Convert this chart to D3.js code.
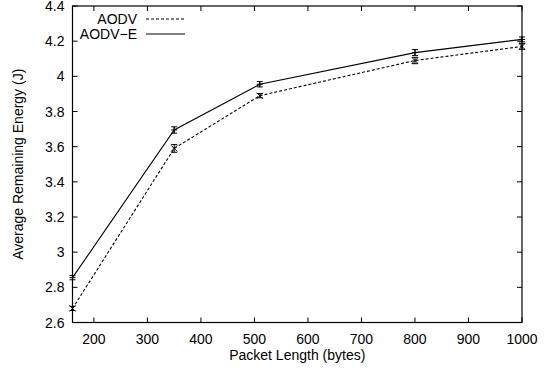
<!DOCTYPE html>
<html><head><meta charset="utf-8">
<script src="https://cdn.jsdelivr.net/npm/d3@7"></script>
<style>body{margin:0;background:#fff}svg{display:block}text{font-family:"Liberation Sans",Arial,sans-serif;fill:#000}</style>
</head><body><svg id="c" width="545" height="374"></svg>
<script>
const packetLengths = [160, 350, 510, 800, 1000];
const aodv = [2.68, 3.59, 3.89, 4.09, 4.17];
const aodvErr = [0.012, 0.022, 0.012, 0.018, 0.016];
const aodvE = [2.855, 3.695, 3.955, 4.135, 4.21];
const aodvEErr = [0.012, 0.018, 0.015, 0.017, 0.014];
const xTicks = [200, 300, 400, 500, 600, 700, 800, 900, 1000];
const yTicks = [2.6, 2.8, 3, 3.2, 3.4, 3.6, 3.8, 4, 4.2, 4.4];
const seriesNames = ["AODV", "AODV\u2212E"];

const svg = d3.select("#c");
const L = 72.5, R = 522, T = 6, B = 322.5;
const x = d3.scaleLinear().domain([160, 1000]).range([L, R]);
const y = d3.scaleLinear().domain([2.6, 4.4]).range([B, T]);
const fs = 14;

// frame
svg.append("rect").attr("x", L).attr("y", T).attr("width", R - L).attr("height", B - T)
  .attr("fill", "none").attr("stroke", "#000").attr("stroke-width", 1.2);

const tl = 5;
// x ticks (inward, mirrored)
xTicks.forEach(v => {
  svg.append("line").attr("x1", x(v)).attr("x2", x(v)).attr("y1", B).attr("y2", B - tl).attr("stroke", "#000");
  svg.append("line").attr("x1", x(v)).attr("x2", x(v)).attr("y1", T).attr("y2", T + tl).attr("stroke", "#000");
  svg.append("text").attr("x", x(v)).attr("y", B + 21).attr("text-anchor", "middle").attr("font-size", fs).text(v);
});
yTicks.forEach(v => {
  svg.append("line").attr("x1", L).attr("x2", L + tl).attr("y1", y(v)).attr("y2", y(v)).attr("stroke", "#000");
  svg.append("line").attr("x1", R).attr("x2", R - tl).attr("y1", y(v)).attr("y2", y(v)).attr("stroke", "#000");
  svg.append("text").attr("x", L - 8).attr("y", y(v) + 5).attr("text-anchor", "end").attr("font-size", fs)
    .text(d3.format("~g")(v));
});

svg.append("text").attr("x", (L + R) / 2).attr("y", 360).attr("text-anchor", "middle").attr("font-size", fs)
  .text("Packet Length (bytes)");
svg.append("text").attr("transform", `translate(23,${(T + B) / 2}) rotate(-90)`).attr("text-anchor", "middle")
  .attr("font-size", fs).text("Average Remaining Energy (J)");

const line = d3.line().x(d => x(d[0])).y(d => y(d[1]));
function drawSeries(vals, errs, dash, marker) {
  const pts = packetLengths.map((p, i) => [p, vals[i]]);
  svg.append("path").attr("d", line(pts)).attr("fill", "none").attr("stroke", "#000")
    .attr("stroke-width", 1.1).attr("stroke-dasharray", dash);
  pts.forEach((p, i) => {
    const cx = x(p[0]), y1 = y(p[1] - errs[i]), y2 = y(p[1] + errs[i]);
    svg.append("line").attr("x1", cx).attr("x2", cx).attr("y1", y1).attr("y2", y2).attr("stroke", "#000");
    [y1, y2].forEach(yy => svg.append("line").attr("x1", cx - 3).attr("x2", cx + 3).attr("y1", yy).attr("y2", yy).attr("stroke", "#000"));
    const cy = y(p[1]), s = 3;
    if (marker === "x") {
      svg.append("path").attr("d", `M${cx - s},${cy - s}L${cx + s},${cy + s}M${cx - s},${cy + s}L${cx + s},${cy - s}`).attr("stroke", "#000");
    } else {
      svg.append("path").attr("d", `M${cx - s},${cy}L${cx + s},${cy}M${cx},${cy - s}L${cx},${cy + s}`).attr("stroke", "#000");
    }
  });
}
drawSeries(aodv, aodvErr, "3,2", "x");
drawSeries(aodvE, aodvEErr, null, "+");

// legend
const legY = [19, 34];
seriesNames.forEach((n, i) => {
  svg.append("text").attr("x", 137).attr("y", legY[i] + 5).attr("text-anchor", "end").attr("font-size", fs).text(n);
  svg.append("line").attr("x1", 146).attr("x2", 185).attr("y1", legY[i]).attr("y2", legY[i])
    .attr("stroke", "#000").attr("stroke-width", 1.1).attr("stroke-dasharray", i === 0 ? "3,2" : null);
});
</script></body></html>
